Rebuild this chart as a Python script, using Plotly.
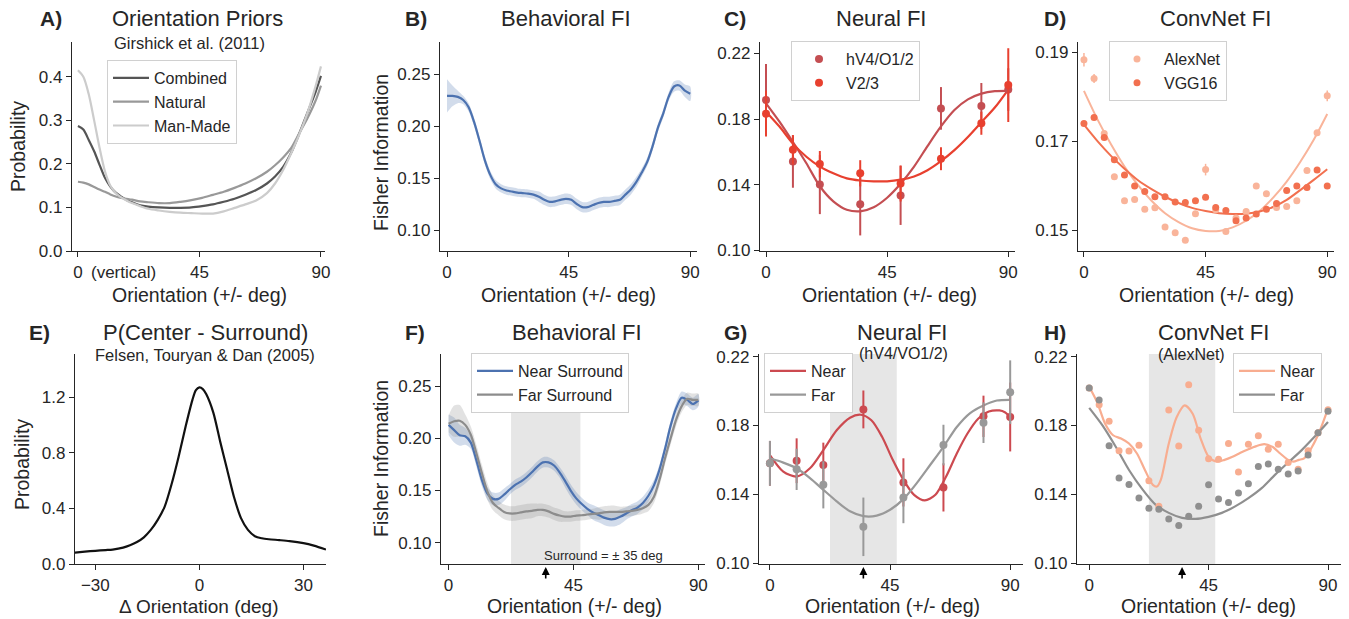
import plotly.graph_objects as go

W, H = 1349, 619
FONT = "Liberation Sans, Arial, Helvetica, sans-serif"
INK = "#262626"

# ---------------- data ----------------
# A) orientation priors
A_x = [0, 2, 4, 6, 8, 10, 12, 14, 16, 18, 20, 23, 26, 30, 34, 38, 42, 46, 50, 54, 58, 62, 66, 70, 73, 76, 79, 82, 85, 88, 90]
A_combined = [0.287, 0.279, 0.255, 0.229, 0.198, 0.168, 0.148, 0.134, 0.125, 0.117, 0.112, 0.105, 0.102, 0.100, 0.099, 0.099,
              0.100, 0.103, 0.107, 0.113, 0.120, 0.129, 0.140, 0.155, 0.171, 0.193, 0.226, 0.270, 0.318, 0.365, 0.402]
A_natural = [0.159, 0.157, 0.153, 0.147, 0.141, 0.136, 0.130, 0.125, 0.122, 0.120, 0.118, 0.114, 0.112, 0.110, 0.110, 0.113,
             0.117, 0.122, 0.129, 0.136, 0.145, 0.155, 0.167, 0.182, 0.197, 0.215, 0.237, 0.271, 0.305, 0.345, 0.380]
A_manmade = [0.415, 0.400, 0.360, 0.300, 0.237, 0.183, 0.150, 0.133, 0.123, 0.116, 0.110, 0.103, 0.097, 0.093, 0.090, 0.088,
             0.087, 0.086, 0.086, 0.091, 0.099, 0.107, 0.116, 0.133, 0.155, 0.186, 0.225, 0.268, 0.317, 0.378, 0.424]

# B) behavioral FI
B_x = [0, 2, 4, 6, 8, 10, 12, 14, 16, 18, 20, 22, 24, 26, 28, 30, 32, 34, 36, 38, 40, 42, 44, 46, 48, 50, 52, 54, 56, 58,
       60, 62, 64, 66, 68, 70, 72, 74, 76, 78, 80, 82, 84, 86, 88, 90]
B_fi = [0.229, 0.229, 0.228, 0.225, 0.218, 0.204, 0.186, 0.167, 0.153, 0.144, 0.140, 0.138, 0.137, 0.136, 0.1355, 0.135,
        0.134, 0.132, 0.129, 0.127, 0.1275, 0.129, 0.130, 0.129, 0.125, 0.122, 0.122, 0.124, 0.126, 0.127, 0.127, 0.128,
        0.129, 0.134, 0.139, 0.146, 0.155, 0.165, 0.180, 0.198, 0.212, 0.228, 0.238, 0.239, 0.234, 0.231]
B_err = [0.016, 0.010, 0.006, 0.004, 0.004, 0.004, 0.004, 0.004, 0.004, 0.004, 0.004, 0.004, 0.004, 0.004, 0.004, 0.004,
         0.004, 0.005, 0.005, 0.005, 0.005, 0.005, 0.005, 0.005, 0.005, 0.005, 0.005, 0.005, 0.005, 0.005, 0.005, 0.005,
         0.005, 0.005, 0.005, 0.005, 0.004, 0.004, 0.004, 0.004, 0.004, 0.004, 0.005, 0.005, 0.006, 0.007]

# C) neural FI
C_x = [0, 10, 20, 35, 50, 65, 80, 90]
C_hv4 = [0.1916, 0.1541, 0.140, 0.128, 0.1334, 0.1865, 0.188, 0.198]
C_hv4_err = [0.022, 0.016, 0.018, 0.019, 0.018, 0.013, 0.014, 0.013]
C_v23 = [0.1833, 0.1612, 0.1525, 0.1469, 0.1407, 0.1558, 0.1774, 0.2007]
C_v23_err = [0.014, 0.009, 0.008, 0.008, 0.011, 0.007, 0.007, 0.0225]
C_fit_x = [0, 5, 10, 15, 20, 25, 30, 35, 40, 45, 50, 55, 60, 65, 70, 75, 80, 85, 90]
C_fit_hv4 = [0.1896, 0.1784, 0.166, 0.153, 0.139, 0.1298, 0.1247, 0.1237, 0.1262, 0.132, 0.1405, 0.151, 0.1635, 0.1755,
             0.1855, 0.192, 0.1955, 0.197, 0.1972]
C_fit_v23 = [0.1845, 0.1754, 0.165, 0.157, 0.151, 0.1469, 0.1438, 0.1425, 0.142, 0.142, 0.143, 0.145, 0.1488, 0.1543,
             0.161, 0.169, 0.178, 0.187, 0.198]

# D) ConvNet FI
D_x = [0, 3.75, 7.5, 11.25, 15, 18.75, 22.5, 26.25, 30, 33.75, 37.5, 41.25, 45, 48.75, 52.5, 56.25, 60, 63.75, 67.5,
       71.25, 75, 78.75, 82.5, 86.25, 90]
D_alex = [0.1883, 0.1841, 0.1717, 0.1620, 0.1566, 0.1569, 0.1547, 0.1550, 0.1507, 0.1494, 0.1477, 0.1537, 0.1636, 0.1546,
          0.1497, 0.1527, 0.1542, 0.1599, 0.1582, 0.1551, 0.1553, 0.1566, 0.1634, 0.1719, 0.1802]
D_alex_err = [0.0015, 0.001, 0.0006, 0.0004, 0.0004, 0.0004, 0.0004, 0.0004, 0.0004, 0.0004, 0.0004, 0.0004, 0.0013,
              0.0004, 0.0004, 0.0004, 0.0004, 0.0004, 0.0004, 0.0004, 0.0004, 0.0004, 0.0004, 0.0006, 0.0012]
D_vgg = [0.1740, 0.1753, 0.1708, 0.1658, 0.1624, 0.1599, 0.1587, 0.1575, 0.1575, 0.1563, 0.1562, 0.1566, 0.1574, 0.1551,
         0.1544, 0.1521, 0.1527, 0.1536, 0.1547, 0.1560, 0.1589, 0.1599, 0.1596, 0.1635, 0.1599]
D_vgg_err = [0.0004, 0.0004, 0.0004, 0.0004, 0.0004, 0.0004, 0.0004, 0.0004, 0.0004, 0.0004, 0.0004, 0.0004, 0.0004,
             0.0004, 0.0004, 0.0004, 0.0004, 0.0004, 0.0004, 0.0004, 0.0004, 0.0004, 0.0004, 0.0004, 0.0004]
D_fit_x = [0, 5, 10, 15, 20, 25, 30, 35, 40, 45, 50, 55, 60, 65, 70, 75, 80, 85, 90]
D_fit_alex = [0.1813, 0.1749, 0.1693, 0.1643, 0.1601, 0.1566, 0.1538, 0.1518, 0.1504, 0.1498, 0.1498, 0.1506, 0.1521,
              0.1543, 0.1573, 0.1609, 0.1653, 0.1703, 0.1761]
D_fit_vgg = [0.1737, 0.1700, 0.1667, 0.1638, 0.1612, 0.1592, 0.1575, 0.1561, 0.1550, 0.1543, 0.1538, 0.1536, 0.1537,
             0.1542, 0.1552, 0.1568, 0.1590, 0.1613, 0.1637]

# E) P(center - surround)
E_x = [-36, -33, -30, -27, -25, -22, -20, -18, -16, -14, -12, -10, -8, -6, -4, -2, -1, 0, 1, 2, 4, 6, 8, 10, 12, 14, 16,
       18, 20, 23, 26, 30, 33, 36.5]
E_p = [0.082, 0.089, 0.095, 0.100, 0.104, 0.118, 0.135, 0.158, 0.192, 0.245, 0.317, 0.413, 0.575, 0.770, 0.985, 1.180,
       1.250, 1.270, 1.258, 1.220, 1.090, 0.880, 0.680, 0.480, 0.330, 0.245, 0.200, 0.185, 0.178, 0.172, 0.165, 0.150,
       0.132, 0.104]

# F) behavioral FI, near vs far surround
F_x = [0, 2, 4, 6, 8, 10, 12, 14, 16, 18, 20, 22, 24, 26, 28, 30, 32, 34, 36, 38, 40, 42, 44, 46, 48, 50, 52, 54, 56, 58,
       60, 62, 64, 66, 68, 70, 72, 74, 76, 78, 80, 82, 84, 86, 88, 90]
F_near = [0.213, 0.208, 0.203, 0.202, 0.196, 0.179, 0.160, 0.147, 0.142, 0.142, 0.146, 0.151, 0.1555, 0.1585, 0.1625,
          0.1675, 0.173, 0.177, 0.177, 0.174, 0.1675, 0.159, 0.150, 0.1425, 0.137, 0.1325, 0.129, 0.1265, 0.124, 0.1225,
          0.1228, 0.125, 0.128, 0.131, 0.1335, 0.138, 0.145, 0.155, 0.170, 0.190, 0.212, 0.229, 0.239, 0.237, 0.233,
          0.2365]
F_near_err = [0.010, 0.012, 0.010, 0.008, 0.006, 0.006, 0.006, 0.006, 0.006, 0.006, 0.006, 0.005, 0.005, 0.005, 0.005,
              0.005, 0.005, 0.005, 0.005, 0.005, 0.005, 0.006, 0.006, 0.006, 0.006, 0.006, 0.007, 0.007, 0.007, 0.007,
              0.007, 0.007, 0.006, 0.006, 0.006, 0.006, 0.006, 0.005, 0.005, 0.005, 0.005, 0.005, 0.006, 0.006, 0.006,
              0.006]
F_far = [0.214, 0.2165, 0.217, 0.213, 0.2035, 0.186, 0.1667, 0.149, 0.138, 0.1333, 0.1295, 0.128, 0.128, 0.129, 0.130,
         0.1305, 0.1314, 0.1314, 0.130, 0.1276, 0.126, 0.125, 0.125, 0.126, 0.1263, 0.127, 0.1276, 0.128, 0.129, 0.1295,
         0.1295, 0.1295, 0.130, 0.1305, 0.1314, 0.133, 0.1362, 0.144, 0.1603, 0.181, 0.200, 0.218, 0.231, 0.238, 0.237,
         0.237]
F_far_err = [0.008, 0.015, 0.015, 0.010, 0.008, 0.008, 0.008, 0.008, 0.007, 0.007, 0.007, 0.007, 0.007, 0.007, 0.007,
             0.007, 0.006, 0.006, 0.006, 0.006, 0.006, 0.005, 0.005, 0.005, 0.005, 0.005, 0.005, 0.006, 0.006, 0.006,
             0.006, 0.005, 0.005, 0.005, 0.005, 0.005, 0.006, 0.006, 0.006, 0.006, 0.006, 0.006, 0.006, 0.006, 0.006,
             0.006]

# G) neural FI (hV4/VO1/2), near vs far
G_x = [0, 10, 20, 35, 50, 65, 80, 90]
G_near = [0.158, 0.1595, 0.157, 0.1893, 0.1469, 0.144, 0.1853, 0.1849]
G_near_err = [0.013, 0.013, 0.013, 0.011, 0.014, 0.014, 0.012, 0.020]
G_far = [0.158, 0.1545, 0.1455, 0.1211, 0.1382, 0.1686, 0.1816, 0.1993]
G_far_err = [0.013, 0.012, 0.0137, 0.017, 0.015, 0.0118, 0.0118, 0.0185]
G_fit_near_x = [0, 5, 10, 15, 20, 25, 30, 34, 38, 42, 46, 50, 54, 58, 62, 66, 70, 74, 78, 82, 86, 88, 90]
G_fit_near = [0.1628, 0.1532, 0.1503, 0.1551, 0.1657, 0.1772, 0.1845, 0.1862, 0.183, 0.1734, 0.160, 0.1484, 0.1397,
              0.1365, 0.1397, 0.1503, 0.1637, 0.1753, 0.1839, 0.1881, 0.1887, 0.1877, 0.1849]
G_fit_far_x = [0, 5, 10, 15, 20, 25, 30, 35, 40, 45, 50, 55, 60, 65, 70, 75, 80, 85, 90]
G_fit_far = [0.1609, 0.1584, 0.1551, 0.1494, 0.1426, 0.1359, 0.1301, 0.1273, 0.1276, 0.131, 0.1372, 0.1465, 0.157,
             0.1676, 0.1791, 0.1872, 0.1916, 0.1945, 0.1949]

# H) ConvNet FI (AlexNet), near vs far
H_x = [0, 3.75, 7.5, 11.25, 15, 18.75, 22.5, 26.25, 30, 33.75, 37.5, 41.25, 45, 48.75, 52.5, 56.25, 60, 63.75, 67.5,
       71.25, 75, 78.75, 82.5, 86.25, 90]
H_near = [0.2018, 0.192, 0.1824, 0.1653, 0.1651, 0.1685, 0.1478, 0.133, 0.1889, 0.168, 0.2037, 0.1772, 0.1607, 0.1603,
          0.1695, 0.153, 0.169, 0.174, 0.1661, 0.1691, 0.1584, 0.1545, 0.1653, 0.1757, 0.1891]
H_far = [0.2018, 0.1948, 0.1682, 0.1495, 0.1457, 0.1378, 0.1319, 0.1313, 0.1257, 0.1219, 0.1273, 0.133, 0.1455, 0.1372,
         0.1353, 0.1407, 0.1461, 0.1561, 0.1576, 0.1545, 0.1518, 0.1536, 0.1628, 0.1757, 0.1883]
H_fit_near_x = [0, 3, 6, 9, 12, 15, 18, 21, 24, 25.5, 27, 30, 33, 36, 39, 42, 45, 48, 51, 54, 57, 60, 63, 66, 69, 72,
                75, 77, 79, 81, 84, 87, 90]
H_fit_near = [0.2025, 0.1935, 0.181, 0.1743, 0.1724, 0.1695, 0.1637, 0.1541, 0.1455, 0.1445, 0.1484, 0.1695, 0.1849,
              0.1916, 0.1868, 0.1724, 0.1618, 0.159, 0.160, 0.1618, 0.1641, 0.1662, 0.168, 0.1691, 0.1676, 0.1637,
              0.160, 0.159, 0.160, 0.1609, 0.1676, 0.1772, 0.1897]
H_fit_far_x = [0, 5, 10, 15, 20, 25, 30, 35, 40, 45, 50, 55, 60, 65, 70, 75, 80, 85, 90]
H_fit_far = [0.1902, 0.18, 0.1676, 0.1541, 0.143, 0.134, 0.1292, 0.1263, 0.1257, 0.1269, 0.1292, 0.133, 0.1378, 0.1436,
             0.1513, 0.1585, 0.1655, 0.1735, 0.182]

SURROUND = [22.5, 47.5]
ARROW_AT = 35

# colours
C_COMB, C_NAT, C_MAN = "#555555", "#999999", "#cccccc"
BLUE, BLUE_BAND = "#4c72b0", "rgba(76,114,176,0.25)"
GREY, GREY_BAND = "#8c8c8c", "rgba(140,140,140,0.25)"
HV4, V23 = "#c44e52", "#e8402f"
ALEX, VGG = "#f9b49a", "#f2704f"
G_NEAR, G_FAR = "#cc4a50", "#999999"
H_NEAR, H_FAR = "#f8ad90", "#8f8f8f"
SHADE = "#e6e6e6"


def fx(p):
    return p / W


def fy(p):
    return 1 - p / H


# axes geometry in pixels: (left, right), (top, bottom)
AX = {
    1: dict(px=(72, 325), py=(42, 251), xr=[-2.2, 91.5], yr=[0, 0.48], xt=[0, 45, 90], xtt=["0", "45", "90"],
            yt=[0, 0.1, 0.2, 0.3, 0.4], ytt=["0.0", "0.1", "0.2", "0.3", "0.4"]),
    2: dict(px=(440, 697), py=(42, 251), xr=[-2.6, 92.5], yr=[0.0798, 0.2808], xt=[0, 45, 90], xtt=["0", "45", "90"],
            yt=[0.10, 0.15, 0.20, 0.25], ytt=["0.10", "0.15", "0.20", "0.25"]),
    3: dict(px=(760, 1015), py=(42, 251), xr=[-2.23, 92.5], yr=[0.0995, 0.227], xt=[0, 45, 90], xtt=["0", "45", "90"],
            yt=[0.10, 0.14, 0.18, 0.22], ytt=["0.10", "0.14", "0.18", "0.22"]),
    4: dict(px=(1078, 1334), py=(42, 251), xr=[-2.2, 92.5], yr=[0.1453, 0.1923], xt=[0, 45, 90],
            xtt=["0", "45", "90"], yt=[0.15, 0.17, 0.19], ytt=["0.15", "0.17", "0.19"]),
    5: dict(px=(75, 326), py=(354, 564), xr=[-35.85, 36.5], yr=[0, 1.51], xt=[-30, 0, 30], xtt=["\u221230", "0", "30"],
            yt=[0, 0.4, 0.8, 1.2], ytt=["0.0", "0.4", "0.8", "1.2"]),
    6: dict(px=(441, 705), py=(354, 564), xr=[-2.74, 92.4], yr=[0.0795, 0.281], xt=[0, 45, 90], xtt=["0", "45", "90"],
            yt=[0.10, 0.15, 0.20, 0.25], ytt=["0.10", "0.15", "0.20", "0.25"]),
    7: dict(px=(759, 1023), py=(354, 564), xr=[-4.1, 94.8], yr=[0.0995, 0.2215], xt=[0, 45, 90],
            xtt=["0", "45", "90"], yt=[0.10, 0.14, 0.18, 0.22], ytt=["0.10", "0.14", "0.18", "0.22"]),
    8: dict(px=(1077, 1341), py=(354, 564), xr=[-4.6, 94.9], yr=[0.0995, 0.2215], xt=[0, 45, 90],
            xtt=["0", "45", "90"], yt=[0.10, 0.14, 0.18, 0.22], ytt=["0.10", "0.14", "0.18", "0.22"]),
}

common = dict(showline=True, linecolor=INK, linewidth=1.3, ticks="outside", ticklen=5, tickwidth=1.3,
              tickcolor=INK, showgrid=False, zeroline=False, fixedrange=True, automargin=False,
              tickfont=dict(family=FONT, size=17, color=INK))

layout = dict(template="none", width=W, height=H, autosize=False, margin=dict(l=0, r=0, t=0, b=0, pad=0),
              plot_bgcolor="white", paper_bgcolor="white",
              font=dict(family=FONT, color=INK), showlegend=True)

for i, s in AX.items():
    sx = "" if i == 1 else str(i)
    layout["xaxis" + sx] = dict(domain=[fx(s["px"][0]), fx(s["px"][1])], range=s["xr"], anchor="y" + sx,
                               tickmode="array", tickvals=s["xt"], ticktext=s["xtt"], **common)
    layout["yaxis" + sx] = dict(domain=[fy(s["py"][1]), fy(s["py"][0])], range=s["yr"], anchor="x" + sx,
                               tickmode="array", tickvals=s["yt"], ticktext=s["ytt"], **common)


def ref(i):
    sx = "" if i == 1 else str(i)
    return dict(xaxis="x" + sx, yaxis="y" + sx)


fig = go.Figure()


def line(i, x, y, color, name=None, legend=None, width=2.2):
    fig.add_trace(go.Scatter(x=x, y=y, mode="lines", line=dict(color=color, width=width, shape="spline",
                                                                smoothing=0.8),
                             name=name, showlegend=legend is not None, legend=legend or "legend",
                             hoverinfo="skip", **ref(i)))


def band(i, x, y, e, color):
    up = [a + b for a, b in zip(y, e)]
    lo = [a - b for a, b in zip(y, e)]
    fig.add_trace(go.Scatter(x=list(x) + list(x)[::-1], y=up + lo[::-1], fill="toself", fillcolor=color,
                             mode="lines", line=dict(width=0, shape="spline", smoothing=0.8), showlegend=False,
                             hoverinfo="skip", **ref(i)))


def points(i, x, y, err, color, size=8, name=None, legend=None, ethick=2):
    fig.add_trace(go.Scatter(x=x, y=y, mode="markers", marker=dict(color=color, size=size),
                             error_y=dict(type="data", array=err, visible=err is not None, color=color,
                                          thickness=ethick, width=0),
                             name=name, showlegend=legend is not None, legend=legend or "legend",
                             hoverinfo="skip", **ref(i)))


# A
line(1, A_x, A_combined, C_COMB, "Combined", "legend")
line(1, A_x, A_natural, C_NAT, "Natural", "legend")
line(1, A_x, A_manmade, C_MAN, "Man-Made", "legend")

# B
band(2, B_x, B_fi, B_err, BLUE_BAND)
line(2, B_x, B_fi, BLUE)

# C
line(3, C_fit_x, C_fit_hv4, HV4)
line(3, C_fit_x, C_fit_v23, V23)
points(3, C_x, C_hv4, C_hv4_err, HV4, 8, "hV4/O1/2", "legend2")
points(3, C_x, C_v23, C_v23_err, V23, 8, "V2/3", "legend2")

# D
line(4, D_fit_x, D_fit_alex, ALEX, width=2)
line(4, D_fit_x, D_fit_vgg, VGG, width=2)
points(4, D_x, D_alex, D_alex_err, ALEX, 7, "AlexNet", "legend3", ethick=1.5)
points(4, D_x, D_vgg, D_vgg_err, VGG, 7, "VGG16", "legend3", ethick=1.5)

# E
line(5, E_x, E_p, "#111111")

# F
band(6, F_x, F_near, F_near_err, BLUE_BAND)
band(6, F_x, F_far, F_far_err, GREY_BAND)
line(6, F_x, F_near, BLUE, "Near Surround", "legend4")
line(6, F_x, F_far, GREY, "Far Surround", "legend4")

# G
line(7, G_fit_near_x, G_fit_near, G_NEAR, "Near", "legend5")
line(7, G_fit_far_x, G_fit_far, G_FAR, "Far", "legend5")
points(7, G_x, G_near, G_near_err, G_NEAR, 8)
points(7, G_x, G_far, G_far_err, G_FAR, 8)

# H
line(8, H_fit_near_x, H_fit_near, H_NEAR, "Near", "legend6")
line(8, H_fit_far_x, H_fit_far, H_FAR, "Far", "legend6")
points(8, H_x, H_near, None, H_NEAR, 7)
points(8, H_x, H_far, None, H_FAR, 7)

# shaded surround regions
shapes = []
for i in (6, 7, 8):
    shapes.append(dict(type="rect", xref="x%d" % i, yref="y%d domain" % i, x0=SURROUND[0], x1=SURROUND[1],
                       y0=0, y1=1, fillcolor=SHADE, line=dict(width=0), layer="below"))
layout["shapes"] = shapes


def leg(x, y, iw=36):
    return dict(x=fx(x), y=fy(y), xanchor="left", yanchor="top", bgcolor="white", bordercolor="#d0d0d0",
                borderwidth=1, font=dict(family=FONT, size=16, color=INK), itemwidth=iw, tracegroupgap=0)


layout["legend"] = leg(107, 60)
layout["legend2"] = leg(791, 41, 44)
layout["legend3"] = leg(1109, 41, 44)
layout["legend4"] = leg(471, 353)
layout["legend5"] = leg(764, 353)
layout["legend6"] = leg(1233, 353)

ann = []


def text(t, x, y, size, bold=False, xanchor="center", angle=0):
    ann.append(dict(text=("<b>%s</b>" % t) if bold else t, x=fx(x), y=fy(y), xref="paper", yref="paper",
                    xanchor=xanchor, yanchor="middle", showarrow=False, textangle=angle,
                    font=dict(family=FONT, size=size, color=INK)))


# panel letters & titles
for letter, x, y in [("A)", 38, 19), ("B)", 403, 19), ("C)", 722, 19), ("D)", 1042, 19),
                     ("E)", 27, 332), ("F)", 403, 332), ("G)", 722, 332), ("H)", 1042, 332)]:
    text(letter, x, y, 21, bold=True, xanchor="left")
for t, x, y in [("Orientation Priors", 197, 19), ("Behavioral FI", 566, 19), ("Neural FI", 881, 19),
                ("ConvNet FI", 1215, 19), ("P(Center - Surround)", 205, 332), ("Behavioral FI", 577, 332),
                ("Neural FI", 902, 332), ("ConvNet FI", 1213, 332)]:
    text(t, x, y, 22)
text("Girshick et al. (2011)", 189, 43, 16.5)
text("Felsen, Touryan &amp; Dan (2005)", 205, 355, 16.5)
text("(hV4/VO1/2)", 903, 353, 16)
text("(AlexNet)", 1191, 354, 16)

# axis titles
for x, y in [(199, 295), (568, 295), (889, 295), (1206, 295), (574, 606), (892, 606), (1208, 606)]:
    text("Orientation (+/- deg)", x, y, 19.5)
text("\u0394 Orientation (deg)", 199, 606, 19)
text("Probability", 18, 147, 19.5, angle=-90)
text("Fisher Information", 381, 153, 19.5, angle=-90)
text("Probability", 22, 465, 19.5, angle=-90)
text("Fisher Information", 381, 459, 19.5, angle=-90)
text("(vertical)", 89, 272, 17, xanchor="left")
text("Surround = \u00b1 35 deg", 603, 555, 13)

# arrows marking the surround orientation
for i in (6, 7, 8):
    ann.append(dict(x=ARROW_AT, y=fy(567), xref="x%d" % i, yref="paper", ax=0, ay=13, text="", showarrow=True,
                    arrowhead=2, arrowsize=1, arrowwidth=1.6, arrowcolor="black"))

layout["annotations"] = ann
fig.update_layout(**layout)

fig.write_html("out.html", config={"displayModeBar": False},
               post_script="document.body.style.margin='0';")
